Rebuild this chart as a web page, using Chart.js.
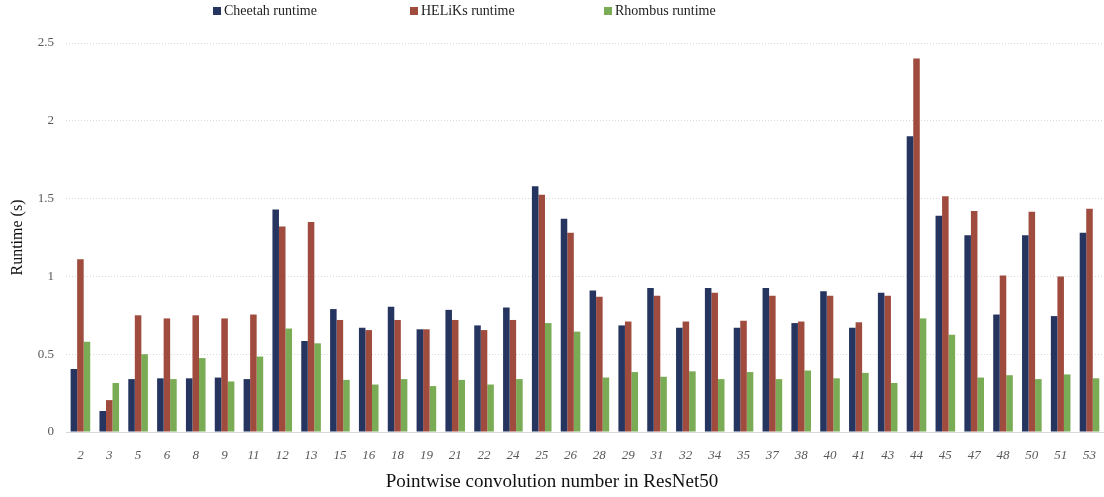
<!DOCTYPE html>
<html>
<head>
<meta charset="utf-8">
<script src="https://cdn.jsdelivr.net/npm/chart.js@4/dist/chart.umd.min.js"></script>
<style>
  html, body { margin: 0; padding: 0; background: #ffffff; }
  #wrap { position: relative; width: 1104px; height: 497px; }
  #legend { position: absolute; top: 3px; left: 0; width: 1104px; height: 20px; font-family: "Liberation Serif", serif; font-size: 14px; color: #222; }
  .item { position: absolute; top: 0; display: flex; align-items: center; white-space: nowrap; }
  .box { width: 8px; height: 8px; margin-right: 3px; }
</style>
</head>
<body>
<div id="wrap">
  <canvas id="c" width="1104" height="497"></canvas>
  <div id="legend"></div>
</div>
<script>
const categories = ["2","3","5","6","8","9","11","12","13","15","16","18","19","21","22","24","25","26","28","29","31","32","34","35","37","38","40","41","43","44","45","47","48","50","51","53"];
const cheetah = [0.405,0.135,0.34,0.345,0.345,0.35,0.34,1.43,0.585,0.79,0.67,0.805,0.66,0.785,0.685,0.80,1.58,1.37,0.91,0.685,0.925,0.67,0.925,0.67,0.925,0.70,0.905,0.67,0.895,1.90,1.39,1.265,0.755,1.265,0.745,1.28];
const heliks  = [1.11,0.205,0.75,0.73,0.75,0.73,0.755,1.32,1.35,0.72,0.655,0.72,0.66,0.72,0.655,0.72,1.525,1.28,0.87,0.71,0.875,0.71,0.895,0.715,0.875,0.71,0.875,0.705,0.875,2.40,1.515,1.42,1.005,1.415,1.00,1.435];
const rhombus = [0.58,0.315,0.50,0.34,0.475,0.325,0.485,0.665,0.57,0.335,0.305,0.34,0.295,0.335,0.305,0.34,0.70,0.645,0.35,0.385,0.355,0.39,0.34,0.385,0.34,0.395,0.345,0.38,0.315,0.73,0.625,0.35,0.365,0.34,0.37,0.345];
const yTicks = [0, 0.5, 1, 1.5, 2, 2.5];
const seriesNames = ["Cheetah runtime", "HELiKs runtime", "Rhombus runtime"];
const seriesColors = ["#25355f", "#9f4b3e", "#7aab55"];

const legendPos = [213, 410, 604];
const lg = document.getElementById('legend');
seriesNames.forEach((n, i) => {
  const d = document.createElement('div');
  d.className = 'item';
  d.style.left = legendPos[i] + 'px';
  d.innerHTML = '<span class="box" style="background:' + seriesColors[i] + '"></span><span>' + n + '</span>';
  lg.appendChild(d);
});

const serif = "'Liberation Serif', serif";
new Chart(document.getElementById('c'), {
  type: 'bar',
  data: {
    labels: categories,
    datasets: [
      { label: seriesNames[0], data: cheetah, backgroundColor: seriesColors[0] },
      { label: seriesNames[1], data: heliks, backgroundColor: seriesColors[1] },
      { label: seriesNames[2], data: rhombus, backgroundColor: seriesColors[2] }
    ]
  },
  options: {
    responsive: false,
    animation: false,
    layout: { padding: { top: 43, right: 0, left: 0, bottom: 0 } },
    datasets: { bar: { categoryPercentage: 0.68, barPercentage: 1.0 } },
    plugins: {
      legend: { display: false },
      tooltip: { enabled: false },
      title: {
        display: true, position: 'bottom', text: 'Pointwise convolution number in ResNet50',
        color: '#111', font: { family: serif, size: 19, weight: 'normal' }, padding: { top: 4, bottom: 4 }
      }
    },
    scales: {
      x: {
        grid: { display: false },
        border: { display: true, color: '#d9d9d9', width: 1 },
        ticks: { color: '#595959', font: { family: serif, size: 13, style: 'italic' }, padding: 8, maxRotation: 0, autoSkip: false },
        afterFit: (s) => { s.height = 34.2; }
      },
      y: {
        min: 0, max: 2.5,
        afterBuildTicks: (s) => { s.ticks = yTicks.map(v => ({ value: v })); },
        grid: { color: '#d9d9d9', lineWidth: 1, drawTicks: false },
        border: { display: false, dash: [1, 2] },
        ticks: { color: '#595959', font: { family: serif, size: 13 }, padding: 12, callback: (v) => String(v) },
        title: { display: true, text: 'Runtime (s)', color: '#111', font: { family: serif, size: 16 }, padding: { top: 8, bottom: 0 } },
        afterFit: (s) => { s.width = 66; }
      }
    }
  }
});
</script>
</body>
</html>
